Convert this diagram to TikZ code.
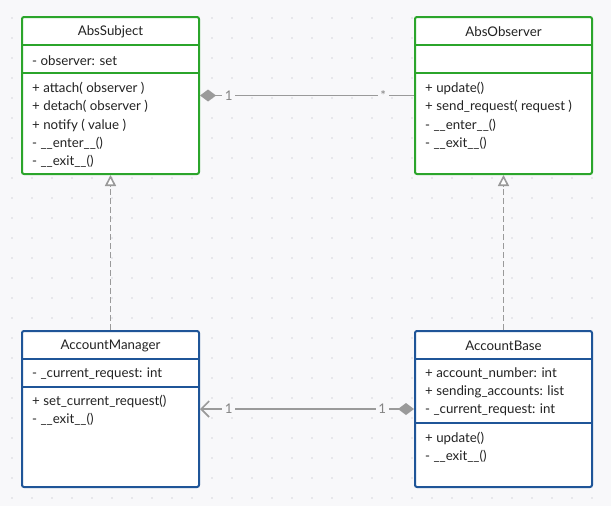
\documentclass[tikz,border=0pt]{standalone}
\usepackage{fontspec}
\setmainfont{Lato}
\usetikzlibrary{arrows.meta}
\definecolor{bg}{HTML}{F8F8FA}
\definecolor{dotc}{HTML}{D6D6DC}
\definecolor{umlgreen}{HTML}{2BA52B}
\definecolor{umlblue}{HTML}{1F5598}
\definecolor{conn}{HTML}{9A9A9A}
\definecolor{txt}{HTML}{222222}
\begin{document}
\begin{tikzpicture}[x=1pt,y=-1pt,
  font=\fontsize{13.3}{15}\selectfont,
  classbox/.style={draw=#1, line width=2pt, fill=white, rounded corners=2pt,
    minimum width=177pt, inner sep=0pt},
  divider/.style={draw=#1, line width=2pt},
  member/.style={anchor=west, inner sep=0pt, text=txt},
  title/.style={inner sep=0pt, text=txt},
  conline/.style={draw=conn, line width=1.6pt},
  mult/.style={fill=bg, inner sep=2.5pt, text=conn!85!black, font=\fontsize{13.3}{15}\selectfont}
]
\fill[bg] (0,0) rectangle (611,506);
\useasboundingbox (0,0) rectangle (611,506);
\foreach \i in {0,...,30} {
  \foreach \j in {0,...,24} {
    \fill[dotc] (12+20*\i, 18+20*\j) circle (0.9);
  }
}

% boxes
\node[classbox=umlgreen, minimum height=157pt] (subj) at (110.5,95.5) {};
\node[classbox=umlgreen, minimum height=157pt] (obs) at (503.5,95.5) {};
\node[classbox=umlblue, minimum height=156pt] (mgr) at (110.5,409) {};
\node[classbox=umlblue, minimum height=156pt] (base) at (503.5,409) {};

% dividers
\draw[divider=umlgreen] (subj.west |- 0,45) -- (subj.east |- 0,45);
\draw[divider=umlgreen] (subj.west |- 0,73) -- (subj.east |- 0,73);
\draw[divider=umlgreen] (obs.west |- 0,45) -- (obs.east |- 0,45);
\draw[divider=umlgreen] (obs.west |- 0,73) -- (obs.east |- 0,73);
\draw[divider=umlblue] (mgr.west |- 0,359) -- (mgr.east |- 0,359);
\draw[divider=umlblue] (mgr.west |- 0,387) -- (mgr.east |- 0,387);
\draw[divider=umlblue] (base.west |- 0,359) -- (base.east |- 0,359);
\draw[divider=umlblue] (base.west |- 0,423) -- (base.east |- 0,423);

% AbsSubject
\node[title] (t1) at (110.5,32) {AbsSubject};
\node[member] (s1) at (32,60.5) {- observer: set};
\node[member] (s2) at (32,88.5) {+ attach( observer )};
\node[member] (s3) at (32,106.5) {+ detach( observer )};
\node[member] (s4) at (32,125) {+ notify ( value )};
\node[member] (s5) at (32,143) {- \_\_enter\_\_()};
\node[member] (s6) at (32,161) {- \_\_exit\_\_()};

% AbsObserver
\node[title] (t2) at (503.5,32) {AbsObserver};
\node[member] (o1) at (425,88.5) {+ update()};
\node[member] (o2) at (425,106.5) {+ send\_request( request )};
\node[member] (o3) at (425,125) {- \_\_enter\_\_()};
\node[member] (o4) at (425,143) {- \_\_exit\_\_()};

% AccountManager
\node[title] (t3) at (110.5,345.5) {AccountManager};
\node[member] (m1) at (32,373.5) {- \_current\_request: int};
\node[member] (m2) at (32,401) {+ set\_current\_request()};
\node[member] (m3) at (32,419) {- \_\_exit\_\_()};

% AccountBase
\node[title] (t4) at (503.5,345.5) {AccountBase};
\node[member] (b1) at (425,373.5) {+ account\_number: int};
\node[member] (b2) at (425,391.5) {+ sending\_accounts: list};
\node[member] (b3) at (425,409.5) {- \_current\_request: int};
\node[member] (b4) at (425,438) {+ update()};
\node[member] (b5) at (425,456) {- \_\_exit\_\_()};

% connectors
\draw[conline, {Diamond[length=16pt,width=12pt,fill=conn]}-] (subj.east) -- (obs.west)
  node[mult, pos=0.134] (l1) {1}
  node[mult, pos=0.856] (l2) {*};
\draw[conline, {Diamond[length=16pt,width=12pt,fill=conn]}-{Straight Barb[length=8pt,width=16pt,line width=1.6pt]}] (base.west) -- (mgr.east)
  node[mult, pos=0.148] (l3) {1}
  node[mult, pos=0.866] (l4) {1};
\draw[conline, dash pattern=on 6pt off 3pt, -{Triangle[open,length=11pt,width=11pt,fill=white]}] (mgr.north) -- (subj.south);
\draw[conline, dash pattern=on 6pt off 3pt, -{Triangle[open,length=11pt,width=11pt,fill=white]}] (base.north) -- (obs.south);
\end{tikzpicture}
\end{document}
